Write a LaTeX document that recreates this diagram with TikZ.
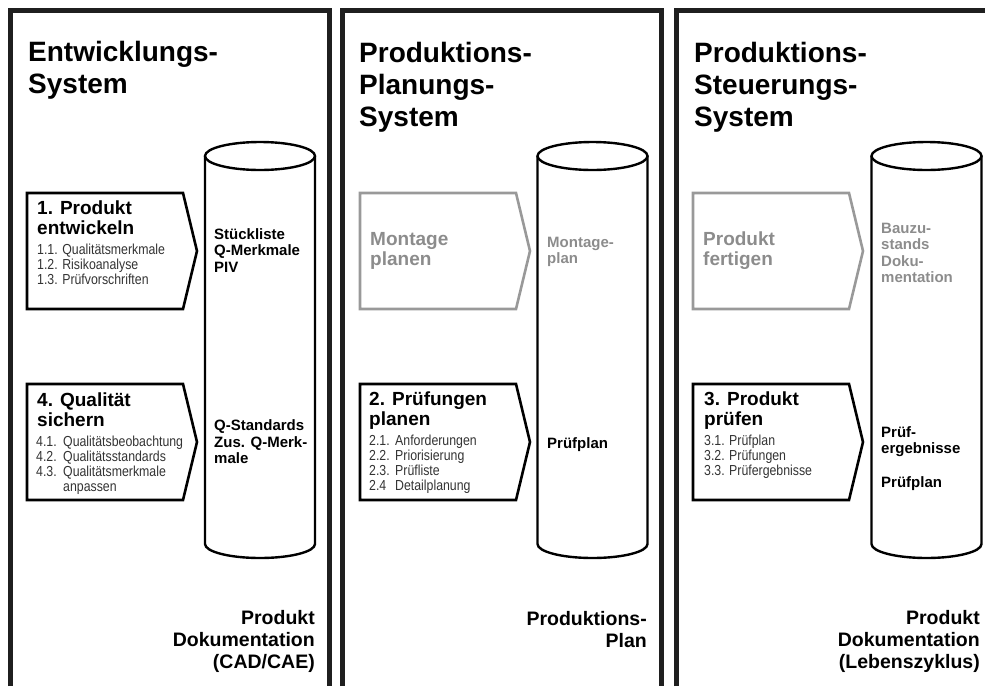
\documentclass[tikz,border=0pt]{standalone}
\usepackage{fontspec}
\usepackage{xcolor}
\usepackage{tikz}
\setmainfont{Liberation Sans}
\newfontfamily\narrowfont[FakeStretch=0.85]{Liberation Sans}
\definecolor{framegray}{rgb}{0.12, 0.12, 0.12}
\definecolor{boxgray}{rgb}{0.6, 0.6, 0.6}
\definecolor{textgray}{rgb}{0.55, 0.55, 0.55}
\definecolor{itemgray}{rgb}{0.2, 0.2, 0.2}

\begin{document}
\begin{tikzpicture}[x=1pt, y=-1pt,
    panel/.style={line width=4.5pt, framegray},
    drum/.style={line width=2.4pt, black},
    stage/.style={line width=2.6pt, line join=miter},
    title/.style={anchor=base west, inner sep=0, align=left, font=\bfseries\fontsize{28}{32}\selectfont},
    head/.style={anchor=base west, inner sep=0, align=left, font=\bfseries\fontsize{19}{19.5}\selectfont},
    items/.style={anchor=base west, inner sep=0, align=left, itemgray, font=\narrowfont\fontsize{14.5}{14.8}\selectfont},
    store/.style={anchor=base west, inner sep=0, align=left, font=\bfseries\fontsize{15}{16.5}\selectfont},
    result/.style={anchor=base east, inner sep=0, align=right, font=\bfseries\fontsize{19.5}{22}\selectfont}]
    \useasboundingbox (0,0) rectangle (985,686);
    % Panels, open at the bottom
    \draw [panel] (10.5,686) |- (329.5,10.5) -- (329.5,686);
    \draw [panel] (342.5,686) |- (661.5,10.5) -- (661.5,686);
    \draw [panel] (676.5,686) |- (986,10.5);
    % Data stores
    \foreach \cx in {260, 592.5, 926.5} {
        \draw [drum] (\cx-55,156) -- (\cx-55,544)
            arc[start angle=180, end angle=360, x radius=55pt, y radius=14pt] -- (\cx+55,156);
        \draw [drum] (\cx,156) ellipse [x radius=55pt, y radius=14pt];
    }
    % Process steps
    \foreach \bx/\by/\bc in {27/193/black, 27/384/black, 360/193/boxgray, 360/384/black, 693/193/boxgray, 693/384/black} {
        \draw [stage, draw=\bc] (\bx,\by) -- ++(156,0) -- ++(14,58) -- ++(-14,58) -- ++(-156,0) -- cycle;
    }
    % Titles (positions are the baselines of the last lines)
    \node [title] (devsys) at (28,93) {Entwicklungs-\\System};
    \node [title] (plansys) at (359,126) {Produktions-\\Planungs-\\System};
    \node [title] (ctrlsys) at (694,126) {Produktions-\\Steuerungs-\\System};
    % Entwicklung
    \node [head] (develop) at (37,234) {1. Produkt\\entwickeln};
    \node [items] (developitems) at (37,284) {1.1. Qualitätsmerkmale\\1.2. Risikoanalyse\\1.3. Prüfvorschriften};
    \node [head] (secure) at (37,426) {4. Qualität\\sichern};
    \node [items] (secureitems) at (36,491) {\makebox[27pt][l]{4.1.}Qualitätsbeobachtung\\\makebox[27pt][l]{4.2.}Qualitätsstandards\\\makebox[27pt][l]{4.3.}Qualitätsmerkmale\\\makebox[27pt][l]{}anpassen};
    \node [store] (bom) at (214,272) {Stückliste\\Q-Merkmale\\PIV};
    \node [store] (standards) at (214,463.5) {Q-Standards\\Zus. Q-Merk-\\male};
    \node [result] (cad) at (315,668) {Produkt\\Dokumentation\\(CAD/CAE)};
    % Planung
    \node [head, textgray] (assembly) at (370,265) {Montage\\planen};
    \node [head] (testplan) at (369,425) {2. Prüfungen\\planen};
    \node [items] (testplanitems) at (369,490) {\makebox[26pt][l]{2.1.}Anforderungen\\\makebox[26pt][l]{2.2.}Priorisierung\\\makebox[26pt][l]{2.3.}Prüfliste\\\makebox[26pt][l]{2.4}Detailplanung};
    \node [store, textgray] (assemblyplan) at (547,263.5) {Montage-\\plan};
    \node [store] (inspection) at (547,448) {Prüfplan};
    \node [result] (prodplan) at (647,647) {Produktions-\\Plan};
    % Steuerung
    \node [head, textgray] (manufacture) at (703,265) {Produkt\\fertigen};
    \node [head] (test) at (704,425) {3. Produkt\\prüfen};
    \node [items] (testitems) at (704,475.5) {\makebox[25pt][l]{3.1.}Prüfplan\\\makebox[25pt][l]{3.2.}Prüfungen\\\makebox[25pt][l]{3.3.}Prüfergebnisse};
    \node [store, textgray] (buildstate) at (881,282.5) {Bauzu-\\stands\\Doku-\\mentation};
    \node [store] (results) at (881,453.5) {Prüf-\\ergebnisse};
    \node [store] (inspection2) at (881,487) {Prüfplan};
    \node [result] (lifecycle) at (980,668) {Produkt\\Dokumentation\\(Lebenszyklus)};
\end{tikzpicture}
\end{document}
